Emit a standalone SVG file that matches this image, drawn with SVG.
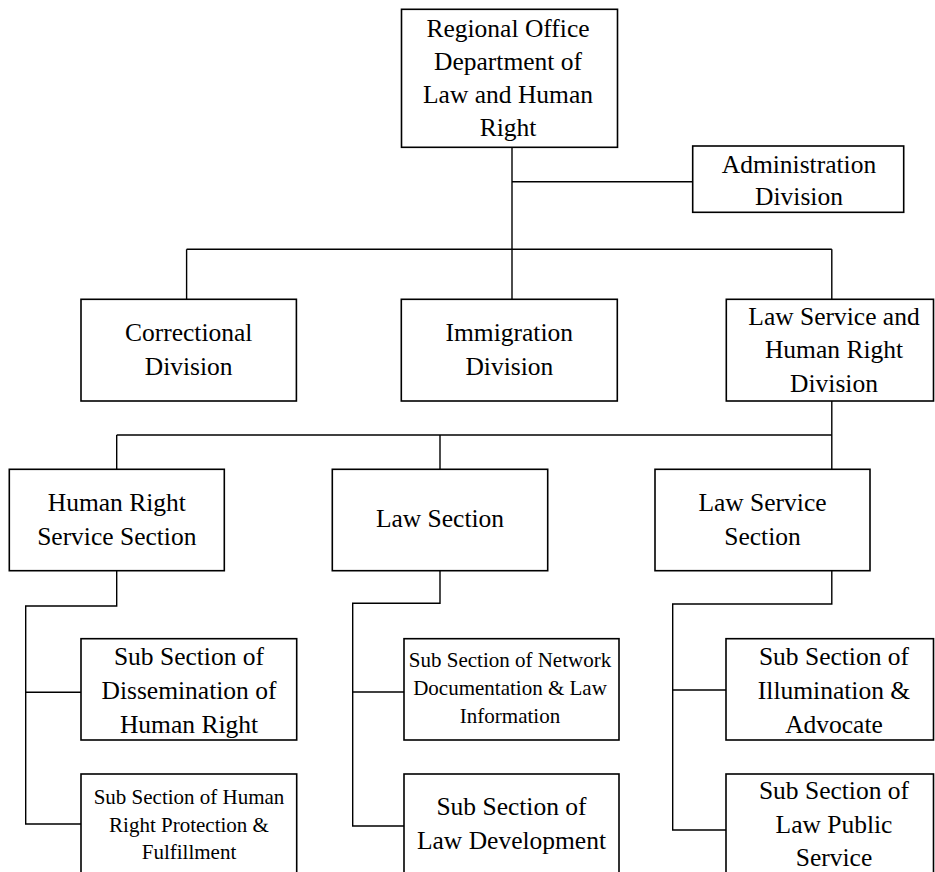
<svg xmlns="http://www.w3.org/2000/svg" width="935" height="872" viewBox="0 0 935 872">
  <style>
    .box { fill: #ffffff; stroke: #000000; stroke-width: 1.6; }
    .link { fill: none; stroke: #000000; stroke-width: 1.4; }
    .lbl { font-family: "Liberation Serif", "Times New Roman", serif; font-size: 25.5px; fill: #000000; text-anchor: middle; }
    .sm { font-size: 21px; }
  </style>
  <rect width="935" height="872" fill="#ffffff"/>

  <!-- connectors -->
  <g id="connectors" class="link">
    <path d="M512 147.3 V299.3"/>
    <path d="M512 181.7 H692.7"/>
    <path d="M186.6 249.3 H831.8"/>
    <path d="M186.6 249.3 V299.3"/>
    <path d="M831.8 249.3 V299.3"/>
    <path d="M831.8 401 V469.3"/>
    <path d="M116.7 435 H831.8"/>
    <path d="M116.7 435 V469.3"/>
    <path d="M440 435 V469.3"/>
    <!-- human right service section branches -->
    <path d="M116.7 570.7 V606 H25.7 V824 H81"/>
    <path d="M25.7 692.3 H81"/>
    <!-- law section branches -->
    <path d="M440 570.7 V603.3 H352.7 V826 H404"/>
    <path d="M352.7 692 H404"/>
    <!-- law service section branches -->
    <path d="M831.8 570.7 V604 H672.7 V830 H726"/>
    <path d="M672.7 690 H726"/>
  </g>

  <g id="regional-office">
    <rect class="box" x="401.5" y="9.3" width="216" height="138"/>
    <text class="lbl" x="508" y="37">Regional Office</text>
    <text class="lbl" x="508" y="70">Department of</text>
    <text class="lbl" x="508" y="103">Law and Human</text>
    <text class="lbl" x="508" y="136">Right</text>
  </g>

  <g id="administration-division">
    <rect class="box" x="692.7" y="146" width="211" height="66.3"/>
    <text class="lbl" x="799" y="172.5">Administration</text>
    <text class="lbl" x="799" y="205">Division</text>
  </g>

  <g id="correctional-division">
    <rect class="box" x="81" y="299.3" width="215.4" height="101.7"/>
    <text class="lbl" x="188.7" y="341">Correctional</text>
    <text class="lbl" x="188.7" y="374.5">Division</text>
  </g>

  <g id="immigration-division">
    <rect class="box" x="401.3" y="299.3" width="216" height="101.7"/>
    <text class="lbl" x="509.3" y="341">Immigration</text>
    <text class="lbl" x="509.3" y="374.5">Division</text>
  </g>

  <g id="law-service-human-right-division">
    <rect class="box" x="726.3" y="299.3" width="207.2" height="101.7"/>
    <text class="lbl" x="834" y="325">Law Service and</text>
    <text class="lbl" x="834" y="358.3">Human Right</text>
    <text class="lbl" x="834" y="391.7">Division</text>
  </g>

  <g id="human-right-service-section">
    <rect class="box" x="9.3" y="469.3" width="215" height="101.4"/>
    <text class="lbl" x="116.8" y="511">Human Right</text>
    <text class="lbl" x="116.8" y="544.5">Service Section</text>
  </g>

  <g id="law-section">
    <rect class="box" x="332.3" y="469.3" width="215.4" height="101.4"/>
    <text class="lbl" x="440" y="527.3">Law Section</text>
  </g>

  <g id="law-service-section">
    <rect class="box" x="655" y="469.3" width="215" height="101.4"/>
    <text class="lbl" x="762.5" y="511">Law Service</text>
    <text class="lbl" x="762.5" y="544.5">Section</text>
  </g>

  <g id="sub-dissemination">
    <rect class="box" x="81" y="638.7" width="215.7" height="101.3"/>
    <text class="lbl" x="189" y="665">Sub Section of</text>
    <text class="lbl" x="189" y="699">Dissemination of</text>
    <text class="lbl" x="189" y="732.5">Human Right</text>
  </g>

  <g id="sub-protection-fulfillment">
    <rect class="box" x="81" y="774" width="215.7" height="110"/>
    <text class="lbl sm" x="189" y="804">Sub Section of Human</text>
    <text class="lbl sm" x="189" y="831.5">Right Protection &amp;</text>
    <text class="lbl sm" x="189" y="858.5">Fulfillment</text>
  </g>

  <g id="sub-network-documentation">
    <rect class="box" x="404" y="638.7" width="215" height="101.3"/>
    <text class="lbl sm" x="510" y="667">Sub Section of Network</text>
    <text class="lbl sm" x="510" y="695">Documentation &amp; Law</text>
    <text class="lbl sm" x="510" y="723">Information</text>
  </g>

  <g id="sub-law-development">
    <rect class="box" x="404" y="774" width="215" height="110"/>
    <text class="lbl" x="511.5" y="815">Sub Section of</text>
    <text class="lbl" x="511.5" y="849">Law Development</text>
  </g>

  <g id="sub-illumination-advocate">
    <rect class="box" x="726" y="638.7" width="207.5" height="101.3"/>
    <text class="lbl" x="834" y="665">Sub Section of</text>
    <text class="lbl" x="834" y="699">Illumination &amp;</text>
    <text class="lbl" x="834" y="732.5">Advocate</text>
  </g>

  <g id="sub-law-public-service">
    <rect class="box" x="726" y="774" width="207.5" height="110"/>
    <text class="lbl" x="834" y="799">Sub Section of</text>
    <text class="lbl" x="834" y="832.5">Law Public</text>
    <text class="lbl" x="834" y="865.5">Service</text>
  </g>
</svg>
